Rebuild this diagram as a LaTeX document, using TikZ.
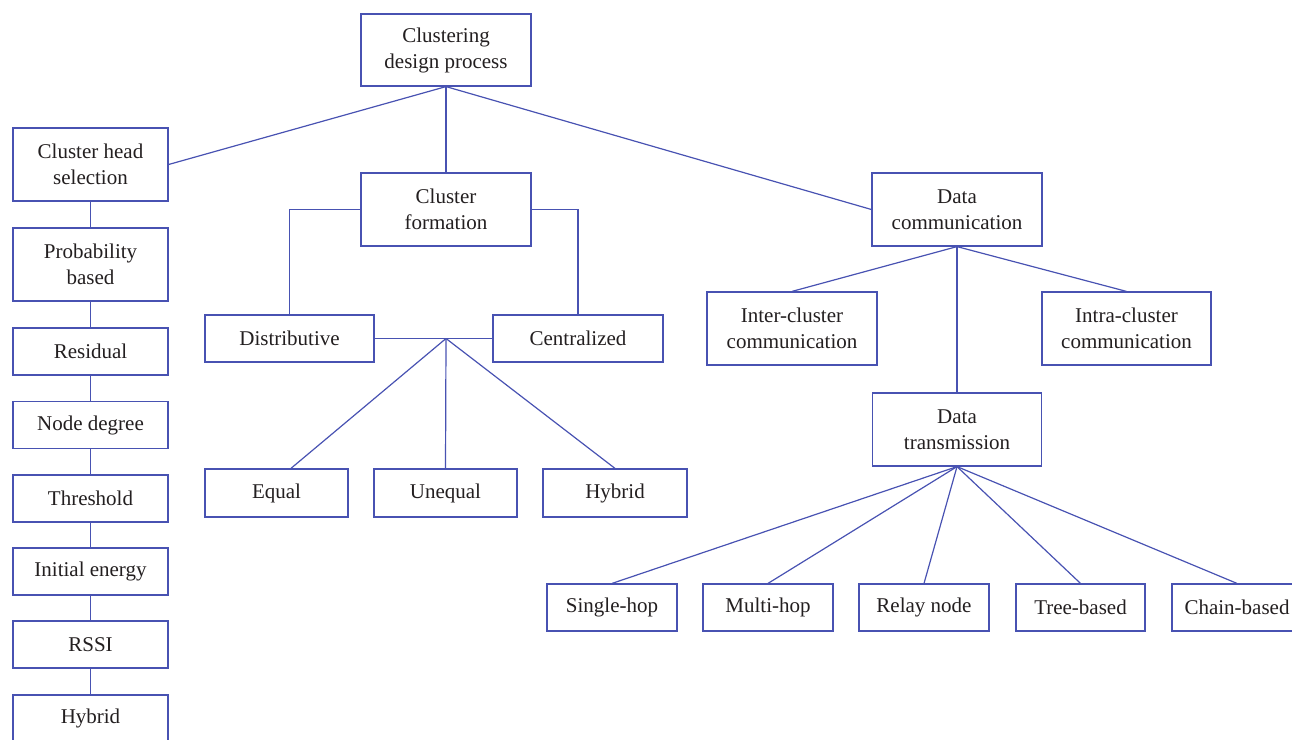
\documentclass[tikz,border=0pt]{standalone}
\usepackage{fontspec}
\setmainfont{Liberation Serif}
\usetikzlibrary{calc}
\definecolor{edgeblue}{RGB}{72,82,178}
\definecolor{inkdark}{RGB}{35,31,32}
\begin{document}
\begin{tikzpicture}[x=1pt,y=-1pt,
  every node/.style={font=\fontsize{21}{26}\selectfont, text=inkdark},
  box/.style={draw=edgeblue, line width=1.2pt, rectangle, inner sep=0pt, align=center, fill=white},
  wide/.style={box, minimum width=170pt, minimum height=73pt},
  leftcol/.style={box, minimum width=155pt, minimum height=47pt},
  midrow/.style={box, minimum width=143pt, minimum height=48pt},
  botrow/.style={box, minimum width=130pt, minimum height=47pt},
  link/.style={draw=edgeblue, line width=1.2pt}]
\useasboundingbox (0,0) rectangle (1292,739);

% root
\node[wide, minimum height=72pt] (root) at (446,50) {Clustering\\design process};

% cluster head selection branch
\node[box, minimum width=155pt, minimum height=73pt] (chs) at (90.5,164.5) {Cluster head\\selection};
\node[box, minimum width=155pt, minimum height=73pt] (prob) at (90.5,264.5) {Probability\\based};
\node[leftcol] (resid) at (90.5,351.5) {Residual};
\node[leftcol] (ndeg) at (90.5,425) {Node degree};
\node[leftcol] (thr) at (90.5,498.5) {Threshold};
\node[leftcol] (inite) at (90.5,571.5) {Initial energy};
\node[leftcol] (rssi) at (90.5,644.5) {RSSI};
\node[leftcol] (hybA) at (90.5,718.5) {Hybrid};

% cluster formation branch
\node[wide] (cform) at (446,209.5) {Cluster\\formation};
\node[box, minimum width=169pt, minimum height=47pt] (dist) at (289.5,338.5) {Distributive};
\node[box, minimum width=170pt, minimum height=47pt] (cent) at (578,338.5) {Centralized};
\node[midrow] (equal) at (276.5,493) {Equal};
\node[midrow] (unequal) at (445.5,493) {Unequal};
\node[midrow, minimum width=144pt] (hybB) at (615,493) {Hybrid};

% data communication branch
\node[wide] (dcomm) at (957,209.5) {Data\\communication};
\node[wide] (inter) at (792,328.5) {Inter-cluster\\communication};
\node[wide, minimum width=169pt] (intra) at (1126.5,328.5) {Intra-cluster\\communication};
\node[wide, minimum width=169pt] (dtrans) at (957,429.5) {Data\\transmission};
\node[botrow] (single) at (612,607.5) {Single-hop};
\node[botrow] (multi) at (768,607.5) {Multi-hop};
\node[botrow] (relay) at (924,607.5) {Relay node};
\node[botrow, minimum width=129pt] (tree) at (1080.5,607.5) {Tree-based};
\node[botrow] (chain) at (1237,607.5) {Chain-based};

% connectors from the root
\draw[link] (root.south) -- (chs.east);
\draw[link] (root.south) -- (cform.north);
\draw[link] (root.south) -- (dcomm.west);

% left column chain
\draw[link] (chs.south) -- (prob.north);
\draw[link] (prob.south) -- (resid.north);
\draw[link] (resid.south) -- (ndeg.north);
\draw[link] (ndeg.south) -- (thr.north);
\draw[link] (thr.south) -- (inite.north);
\draw[link] (inite.south) -- (rssi.north);
\draw[link] (rssi.south) -- (hybA.north);

% cluster formation
\draw[link] (cform.west) -| (dist.north);
\draw[link] (cform.east) -| (cent.north);
\draw[link] (dist.east) -- (cent.west);
\coordinate (junc) at (cform.south |- dist.east);
\draw[link] (junc) -- ($(equal.north west)!0.6!(equal.north east)$);
\draw[link] (junc) -- (unequal.north);
\draw[link] (junc) -- (hybB.north);

% data communication
\draw[link] (dcomm.south) -- (inter.north);
\draw[link] (dcomm.south) -- (intra.north);
\draw[link] (dcomm.south) -- (dtrans.north);
\draw[link] (dtrans.south) -- (single.north);
\draw[link] (dtrans.south) -- (multi.north);
\draw[link] (dtrans.south) -- (relay.north);
\draw[link] (dtrans.south) -- (tree.north);
\draw[link] (dtrans.south) -- (chain.north);
\end{tikzpicture}
\end{document}
